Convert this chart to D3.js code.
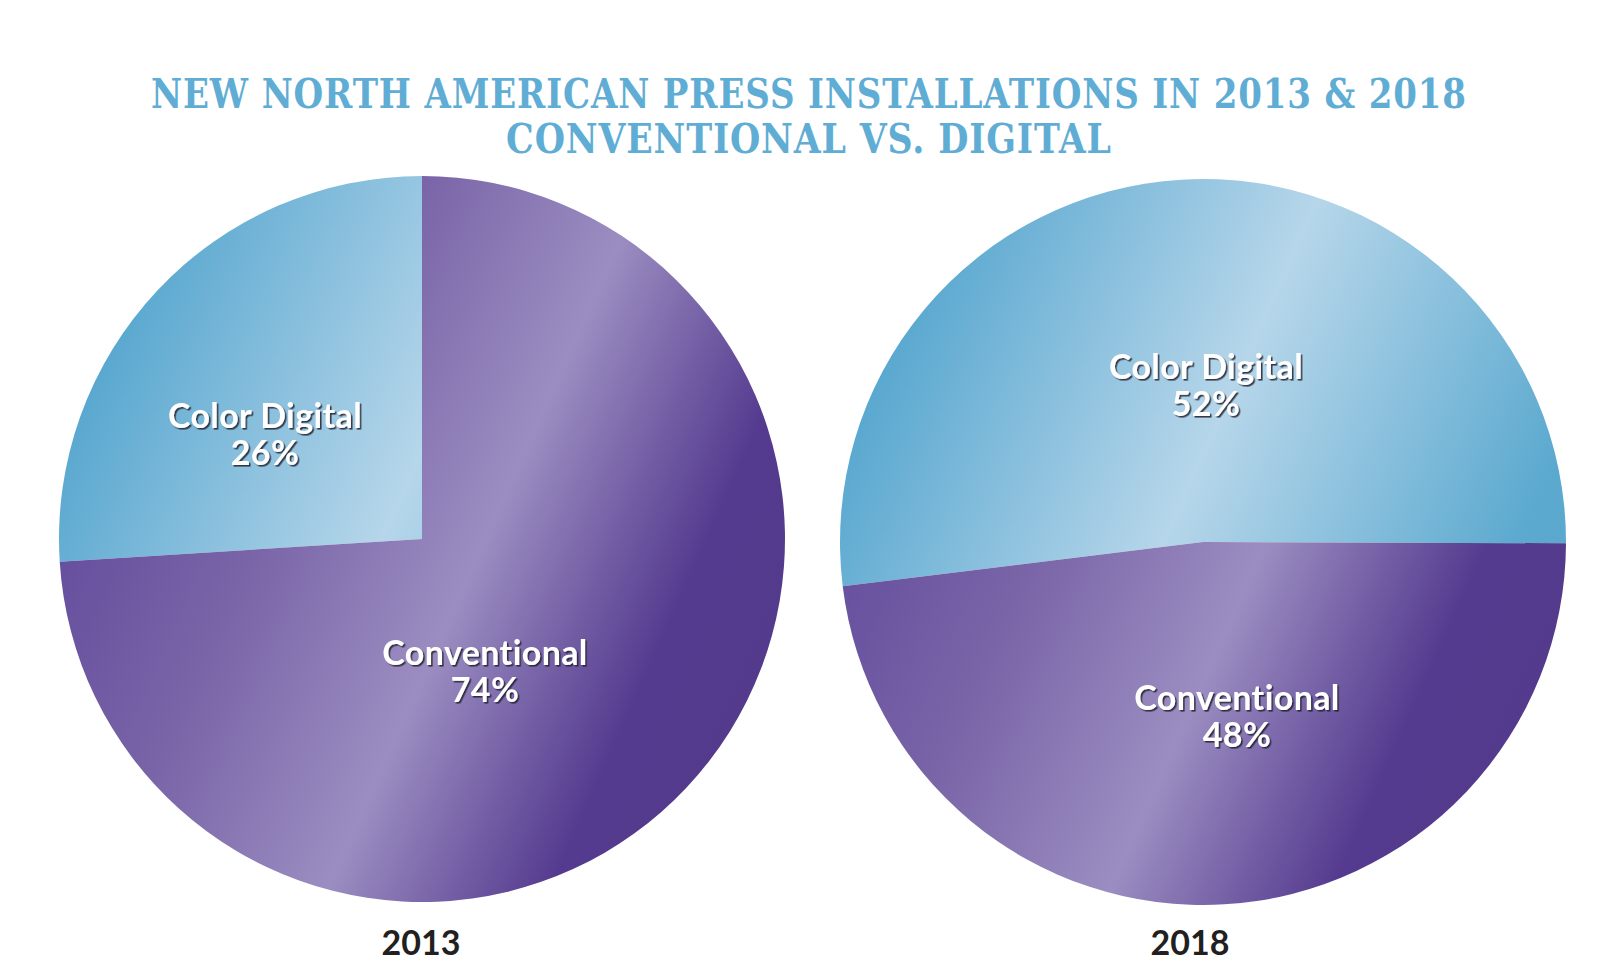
<!DOCTYPE html>
<html>
<head>
<meta charset="utf-8">
<script src="https://cdn.jsdelivr.net/npm/d3@7"></script>
<style>
  html, body { margin: 0; padding: 0; background: #ffffff; }
  svg { display: block; }
</style>
</head>
<body>
<script>
// ---- data ----
const titleLines = ["NEW NORTH AMERICAN PRESS INSTALLATIONS IN 2013 & 2018", "CONVENTIONAL VS. DIGITAL"];
const years = ["2013", "2018"];
const categories = ["Color Digital", "Conventional"];
const values2013 = [26, 74];
const values2018 = [52, 48];
const startAngles = [-93.6, -97.0]; // degrees, where the "Color Digital" slice begins

// ---- layout ----
const W = 1616, H = 968;
const pies = [
  { cx: 422, cy: 539, r: 363, values: values2013, year: years[0], start: startAngles[0],
    labelPos: [[265, 428], [485, 665]], yearX: 421 },
  { cx: 1203, cy: 542, r: 363, values: values2018, year: years[1], start: startAngles[1],
    labelPos: [[1206, 379], [1237, 710]], yearX: 1190 }
];

const svg = d3.select("body").append("svg").attr("width", W).attr("height", H);
const defs = svg.append("defs");

const shadow = defs.append("filter").attr("id", "lblShadow")
  .attr("x", "-10%").attr("y", "-20%").attr("width", "130%").attr("height", "150%");
shadow.append("feDropShadow").attr("dx", 1.6).attr("dy", 1.6).attr("stdDeviation", 0.7)
  .attr("flood-color", "#1e1a2e").attr("flood-opacity", 0.85);

// title (natural width measured, then scaled horizontally to the reference width)
const titleColor = "#5fadd4";
const titleY = [108, 153];
const titleW = [1316, 606];
titleLines.forEach((t, i) => {
  const txt = svg.append("text")
    .attr("x", 0).attr("y", 0)
    .attr("text-anchor", "middle")
    .attr("font-family", "'DejaVu Serif', serif")
    .attr("font-weight", "bold")
    .attr("font-size", 41)
    .attr("letter-spacing", 1)
    .attr("fill", titleColor)
    .text(t);
  const natural = txt.node().getComputedTextLength();
  const k = natural > 0 ? titleW[i] / natural : 1;
  txt.attr("transform", `translate(809,${titleY[i]}) scale(${k},1)`);
});

const ux = 0.91, uy = 0.41;
const purpleStops = [[0, "#624a9b"], [0.3, "#7a65a8"], [0.58, "#9b8dc1"], [0.86, "#553b8f"], [1, "#533a8c"]];
const blueStops = [[0, "#5aa8d0"], [0.45, "#b6d6ea"], [0.9, "#5ba9cf"], [1, "#5aa8cf"]];

function makeGrad(id, p, stops) {
  // gradient in the pie group's own coordinates (origin = pie centre)
  const g = defs.append("linearGradient").attr("id", id)
    .attr("gradientUnits", "userSpaceOnUse")
    .attr("x1", -p.r * ux).attr("y1", -p.r * uy)
    .attr("x2", p.r * ux).attr("y2", p.r * uy);
  stops.forEach(s => g.append("stop").attr("offset", s[0]).attr("stop-color", s[1]));
}

const arc = d3.arc().innerRadius(0);

pies.forEach((p, pi) => {
  makeGrad("blue" + pi, p, blueStops);
  makeGrad("purple" + pi, p, purpleStops);
  const s = p.start * Math.PI / 180;
  const pie = d3.pie().sort(null).value(d => d.v).startAngle(s).endAngle(s + 2 * Math.PI);
  const data = pie(categories.map((c, i) => ({ c, v: p.values[i] })));
  const g = svg.append("g").attr("transform", `translate(${p.cx},${p.cy})`);
  g.selectAll("path").data(data).enter().append("path")
    .attr("d", d => arc.outerRadius(p.r)(d))
    .attr("fill", (d, i) => i === 0 ? `url(#blue${pi})` : `url(#purple${pi})`);

  data.forEach((d, i) => {
    const [lx, ly] = p.labelPos[i];
    const t = svg.append("text")
      .attr("x", lx).attr("y", ly)
      .attr("text-anchor", "middle")
      .attr("font-family", "Lato, 'Open Sans', sans-serif")
      .attr("font-weight", "bold")
      .attr("font-size", 34)
      .attr("letter-spacing", 0.4)
      .attr("fill", "#ffffff")
      .attr("filter", "url(#lblShadow)");
    t.append("tspan").attr("x", lx).attr("y", ly).text(d.data.c);
    t.append("tspan").attr("x", lx).attr("y", ly + 37).text(d.data.v + "%");
  });

  svg.append("text")
    .attr("x", p.yearX).attr("y", 955)
    .attr("text-anchor", "middle")
    .attr("font-family", "Lato, 'Open Sans', sans-serif")
    .attr("font-weight", "bold")
    .attr("font-size", 34)
    .attr("fill", "#231f20")
    .text(p.year);
});
</script>
</body>
</html>
